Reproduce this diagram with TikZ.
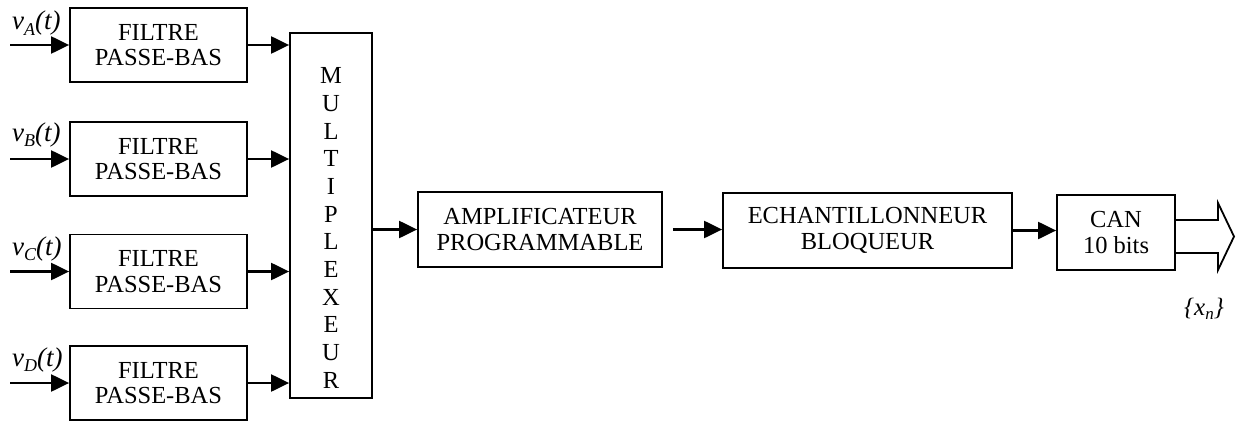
\documentclass[tikz,border=0pt]{standalone}
\usepackage{fontspec}
\setmainfont{Liberation Serif}
\usetikzlibrary{arrows.meta,calc}
\newcommand\sigv[1]{{\itshape v\raisebox{-0.45ex}{\fontsize{18}{18}\selectfont #1}(t)}}
\begin{document}
\begin{tikzpicture}[x=1pt,y=-1pt,
  line width=2.2pt,
  blk/.style={draw,line width=1.8pt,inner sep=0pt,align=center,font=\fontsize{24.5}{25.5}\selectfont},
  filt/.style={blk,minimum width=177pt,minimum height=74pt},
  arr/.style={-{Triangle[length=18pt,width=17pt]}},
  lbl/.style={anchor=base west,inner sep=0pt,font=\fontsize{27}{27}\selectfont}]
\useasboundingbox (0,0) rectangle (1238,420);
% filters
\node[filt] (fA) at (158.5,45) {FILTRE\\PASSE-BAS};
\node[filt] (fB) at (158.5,159) {FILTRE\\PASSE-BAS};
\node[filt] (fC) at (158.5,271.5) {FILTRE\\PASSE-BAS};
\node[filt] (fD) at (158.5,383) {FILTRE\\PASSE-BAS};
% mux
\node[blk,minimum width=82pt,minimum height=365pt] (mux) at (331,215.5) {};
\node[inner sep=0pt,align=center,font=\fontsize{24.5}{27.7}\selectfont] (muxtxt) at (331,228)
  {M\\U\\L\\T\\I\\P\\L\\E\\X\\E\\U\\R};
% chain
\node[blk,minimum width=244pt,minimum height=75pt] (amp) at (540,229.5) {AMPLIFICATEUR\\PROGRAMMABLE};
\node[blk,minimum width=289pt,minimum height=75pt] (ech) at (867.5,230.5) {ECHANTILLONNEUR\\BLOQUEUR};
\node[blk,minimum width=118pt,minimum height=75pt] (can) at (1116,232.5) {CAN\\10 bits};
% inputs
\coordinate (iA) at (10,45);
\coordinate (iB) at (10,159);
\coordinate (iC) at (10,271.5);
\coordinate (iD) at (10,383);
\node[lbl] (lA) at (11,30) {\sigv{A}};
\node[lbl] (lB) at (11,141) {\sigv{B}};
\node[lbl] (lC) at (11,255) {\sigv{C}};
\node[lbl] (lD) at (11,366) {\sigv{D}};
\foreach \s in {A,B,C,D}{
  \draw[arr] (i\s) -- (f\s.west);
  \draw[arr] (f\s.east) -- (f\s.east -| mux.west);
}
\draw[arr] (mux.east |- amp.west) -- (amp.west);
\draw[arr,shorten <=10pt] (amp.east) -- (amp.east -| ech.west);
\draw[arr] (ech.east) -- (ech.east -| can.west);
% hollow output arrow
\draw[line width=1.8pt,line join=miter] (1175,220) -- (1218,220) -- (1218,203) -- (1234,236.5)
  -- (1218,270) -- (1218,253) -- (1175,253);
\node[inner sep=0pt,font=\fontsize{25}{25}\selectfont\itshape] (xn) at (1204,309) {\{x\raisebox{-0.4ex}{\fontsize{17}{17}\selectfont n}\}};
\end{tikzpicture}
\end{document}
